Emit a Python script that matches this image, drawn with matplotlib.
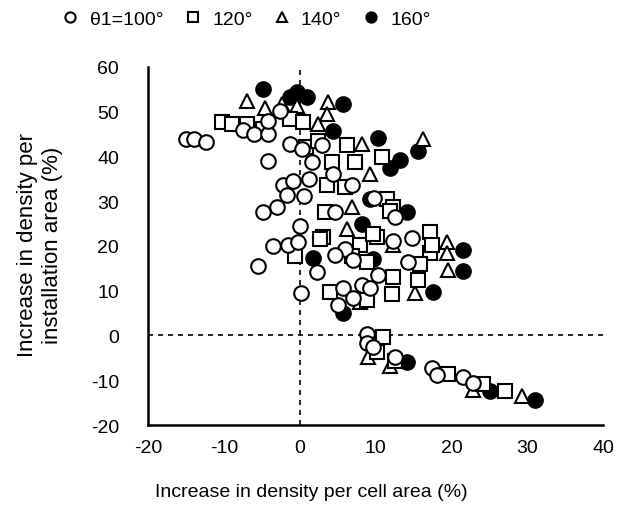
import numpy as np
import matplotlib.pyplot as plt

plt.rcParams['font.family'] = ['Liberation Sans', 'DejaVu Sans']
plt.rcParams['axes.unicode_minus'] = False

# theta1 = 100 deg (open circles)
x100 = [-15.0, -13.9, -12.4, -7.5, -6.1, -4.2, -2.6, -4.2, -1.3, 0.3, 2.9, 1.6, 4.4, 6.9,
        -4.2, -2.2, -0.9, 1.2, -1.7, 0.5, 9.8, -4.9, -3.0, 0.0, -3.6, -1.6, -0.3, -5.5,
        2.2, 0.1, 4.6, 12.5, 5.9, 4.6, 7.0, 12.3, 14.8, 14.2, 10.3, 5.7, 7.0, 5.0, 8.2, 9.2,
        8.8, 8.8, 9.6, 12.5, 17.4, 18.1, 21.5, 22.8]
y100 = [43.8, 43.9, 43.2, 45.8, 44.9, 45.1, 50.1, 47.8, 42.7, 41.6, 42.5, 38.7, 36.0, 33.5,
        38.9, 33.7, 34.4, 34.9, 31.3, 31.1, 30.8, 27.5, 28.8, 24.4, 19.9, 20.3, 20.8, 15.6,
        14.1, 9.6, 27.5, 26.4, 19.4, 17.9, 16.8, 21.2, 21.7, 16.3, 13.6, 10.7, 8.3, 6.7, 11.2, 10.5,
        0.4, -1.6, -2.5, -4.9, -7.2, -8.9, -9.2, -10.5]

# 120 deg (open squares)
x120 = [-10.2, -9.0, -6.9, -4.9, -1.3, 0.4, 0.8, 2.4, 4.2, 6.2, 7.3, 10.8, 3.6, 5.9, 11.5,
        12.3, 3.3, 11.9, 10.2, 7.9, 6.9, 3.0, -0.7, 17.2, 17.2, 17.4, 12.3, 15.6, 4.0, 12.1,
        8.8, 15.8, 9.6, 2.6, 8.8,
        10.9, 10.2, 12.5, 19.5, 24.1, 27.0]
y120 = [47.6, 47.2, 47.2, 46.0, 48.3, 47.6, 42.2, 43.4, 38.7, 42.5, 38.7, 39.8, 33.7, 33.1, 30.4,
        28.8, 27.5, 27.7, 22.1, 20.3, 17.7, 22.1, 17.7, 23.0, 18.5, 20.3, 13.0, 12.5, 9.8, 9.2,
        8.0, 15.9, 22.6, 21.5, 16.3,
        -0.4, -3.6, -5.8, -8.7, -10.9, -12.5]

# 140 deg (open triangles)
x140 = [-7.0, -4.6, -2.4, -0.4, 3.7, 3.6, 2.4, 8.2, 9.2, 16.2, 6.9, 6.2, 12.3, 19.4, 19.4,
        19.5, 15.2, 7.9,
        9.0, 11.9, 22.8, 29.3]
y140 = [52.3, 50.7, 51.6, 51.2, 52.1, 49.4, 47.2, 42.7, 36.0, 43.8, 28.6, 23.7, 20.3, 20.8, 18.5,
        14.7, 9.6, 7.4,
        -4.7, -6.9, -12.1, -13.6]

# 160 deg (filled circles)
x160 = [-4.9, -1.3, -0.4, 0.9, 5.7, 4.4, 10.3, 11.9, 13.2, 15.6, 14.1, 8.2, 1.7, 9.6, 21.5,
        21.5, 17.5, 5.7, 9.2,
        14.1, 25.1, 31.0]
y160 = [55.0, 53.2, 54.3, 53.2, 51.6, 45.6, 44.2, 37.5, 39.3, 41.1, 27.5, 24.8, 17.4, 17.0, 19.2,
        14.3, 9.8, 5.1, 30.4,
        -6.0, -12.5, -14.3]

fig = plt.figure(figsize=(6.33, 5.06), dpi=100)
ax = fig.add_axes([0.234, 0.158, 0.719, 0.708])

ms = 10.5
ax.plot(x160, y160, 'o', ms=ms, mfc='black', mec='black', mew=1.5, zorder=3, label='160°')
ax.plot(x140, y140, '^', ms=ms, mfc='white', mec='black', mew=1.5, zorder=4, label='140°')
ax.plot(x120, y120, 's', ms=ms, mfc='white', mec='black', mew=1.5, zorder=5, label='120°')
ax.plot(x100, y100, 'o', ms=ms, mfc='white', mec='black', mew=1.5, zorder=6, label='θ1=100°')

ax.axhline(0, color='black', lw=1.2, ls=(0, (3, 3)), zorder=2)
ax.axvline(0, color='black', lw=1.2, ls=(0, (3, 3)), zorder=2)

ax.set_xlim(-20, 40)
ax.set_ylim(-20, 60)
ax.set_xticks(np.arange(-20, 41, 10))
ax.set_yticks(np.arange(-20, 61, 10))
ax.tick_params(length=0, labelsize=14)
ax.tick_params(axis='x', pad=10)
ax.tick_params(axis='y', pad=21)
for s in ['top', 'right']:
    ax.spines[s].set_visible(False)
for s in ['left', 'bottom']:
    ax.spines[s].set_linewidth(1.8)

fig.text(311 / 633, 1 - 493 / 506, 'Increase in density per cell area (%)', fontsize=14,
         ha='center', va='center')
fig.text(40 / 633, 1 - 245 / 506, 'Increase in density per\ninstallation area (%)', fontsize=16,
         rotation=90, ha='center', va='center', ma='center')

h, l = ax.get_legend_handles_labels()
fig.legend(h[::-1], l[::-1], loc='center', bbox_to_anchor=(0.388, 0.96), ncol=4, frameon=False,
           fontsize=14, markerscale=0.7, handletextpad=0.5, columnspacing=1.0, handlelength=1.0)

fig.savefig('out.png', dpi=100)
